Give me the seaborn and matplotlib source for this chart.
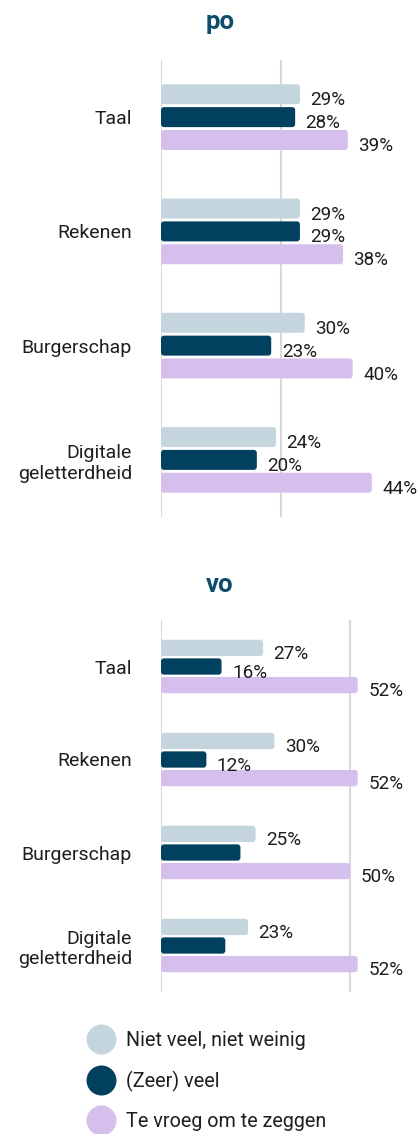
import matplotlib
matplotlib.use("Agg")
import matplotlib.pyplot as plt
import seaborn as sns
import pandas as pd
from matplotlib.patches import FancyBboxPatch
from matplotlib.lines import Line2D

# ---- data ----
categories = ["Taal", "Rekenen", "Burgerschap", "Digitale\ngeletterdheid"]
series = ["Niet veel, niet weinig", "(Zeer) veel", "Te vroeg om te zeggen"]

po_neutraal = [29, 29, 30, 24]
po_veel = [28, 29, 23, 20]
po_vroeg = [39, 38, 40, 44]

vo_neutraal = [27, 30, 25, 23]
vo_veel = [16, 12, 21, 17]
vo_vroeg = [52, 52, 50, 52]

# labels not printed in the reference (overlapping)
vo_veel_label_shown = [True, True, False, False]

colors = {series[0]: "#C5D5DD", series[1]: "#02405F", series[2]: "#D5BFEC"}
title_color = "#0E4C6C"
text_color = "#1E1E1E"

sns.set_theme(style="white")
plt.rcParams["font.family"] = ["Roboto", "DejaVu Sans"]


def make_df(a, b, c):
    rows = []
    for s, vals in zip(series, (a, b, c)):
        for cat, v in zip(categories, vals):
            rows.append({"cat": cat, "serie": s, "value": v})
    return pd.DataFrame(rows)


def round_bars(ax, radius_px=3.0):
    p0 = ax.transData.transform((0, 0))
    p1 = ax.transData.transform((1, 1))
    sx = abs(p1[0] - p0[0])
    sy = abs(p1[1] - p0[1])
    for p in list(ax.patches):
        x, y, w, h = p.get_x(), p.get_y(), p.get_width(), p.get_height()
        fb = FancyBboxPatch((x, y), w, h,
                            boxstyle=f"round,pad=0,rounding_size={radius_px / sx}",
                            mutation_aspect=sx / sy,
                            facecolor=p.get_facecolor(), edgecolor="none",
                            zorder=p.get_zorder())
        p.set_visible(False)
        ax.add_patch(fb)


def panel(ax, df, xmax, ticks, title, title_y, hidden=None):
    sns.barplot(data=df, y="cat", x="value", hue="serie", hue_order=series,
                order=categories, palette=colors, orient="h", width=0.6,
                gap=0.125, legend=False, ax=ax, saturation=1)
    ax.set_xticks(ticks)
    ax.set_xticklabels([])
    ax.set_xlim(0, xmax)
    ax.set_ylim(3.5, -0.5)
    ax.set_autoscale_on(False)
    ax.set_xlabel("")
    ax.set_ylabel("")
    ax.grid(axis="x", color="#D9D9D9", linewidth=1.5)
    ax.grid(axis="y", visible=False)
    ax.set_axisbelow(True)
    for s in ax.spines.values():
        s.set_visible(False)
    ax.tick_params(axis="y", length=0, pad=21, labelsize=14, labelcolor=text_color)
    ax.tick_params(axis="x", length=0)
    for lab in ax.get_yticklabels():
        lab.set_horizontalalignment("right")
    # value labels
    for si, cont in enumerate(ax.containers):
        for ci, bar in enumerate(cont):
            if hidden is not None and (si, ci) in hidden:
                continue
            w = bar.get_width()
            yc = bar.get_y() + bar.get_height() / 2
            ax.annotate(f"{int(round(w))}%", (w, yc), xytext=(7.5, -8.0),
                        textcoords="offset points", ha="left", va="baseline",
                        fontsize=13.6, color=text_color, annotation_clip=False)
    round_bars(ax, 3.0)
    fig.text(220 / 419, 1 - title_y / 1134, title, ha="center", va="baseline",
             fontsize=18.5, fontweight="bold", color=title_color)


fig = plt.figure(figsize=(4.19, 11.34), dpi=100)
left = 161 / 419
width = 230 / 419
ax_po = fig.add_axes([left, 1 - 517 / 1134, width, (517 - 60) / 1134])
ax_vo = fig.add_axes([left, 1 - 992 / 1134, width, (992 - 620) / 1134])

panel(ax_po, make_df(po_neutraal, po_veel, po_vroeg), 48.0, [0, 25], "po", 29)
hidden_vo = {(1, i) for i, shown in enumerate(vo_veel_label_shown) if not shown}
panel(ax_vo, make_df(vo_neutraal, vo_veel, vo_vroeg), 60.8, [0, 50], "vo", 592,
      hidden=hidden_vo)

handles = [Line2D([0], [0], marker="o", linestyle="none", markersize=21.6,
                  markerfacecolor=colors[s], markeredgecolor="none") for s in series]
fig.legend(handles, series, loc="upper left",
           bbox_to_anchor=(85.5 / 419, 1 - 1031 / 1134), frameon=False,
           fontsize=14.2, handlelength=1.6, handletextpad=0.45, labelspacing=1.04,
           borderpad=0, borderaxespad=0, labelcolor=text_color)

fig.savefig("out.png", dpi=100)
